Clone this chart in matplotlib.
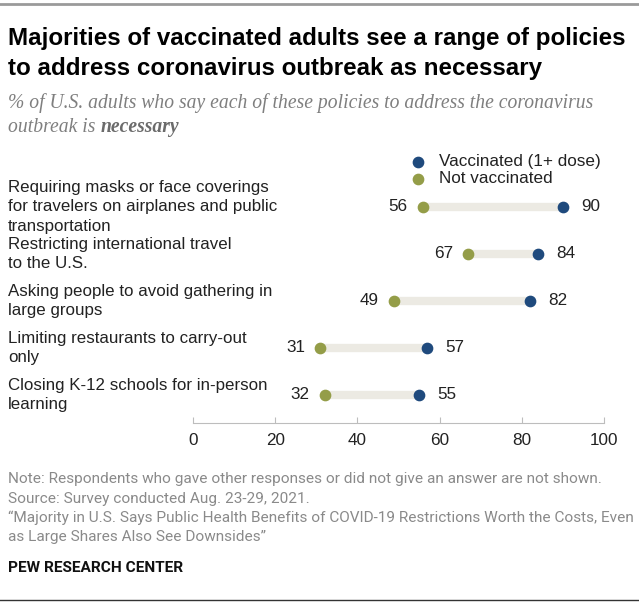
import matplotlib
matplotlib.use("Agg")
import matplotlib.pyplot as plt
import matplotlib.transforms as mtransforms

# Data
policies = [
    "Requiring masks or face coverings\nfor travelers on airplanes and public\ntransportation",
    "Restricting international travel\nto the U.S.",
    "Asking people to avoid gathering in\nlarge groups",
    "Limiting restaurants to carry-out\nonly",
    "Closing K-12 schools for in-person\nlearning",
]
vaccinated = [90, 84, 82, 57, 55]
not_vaccinated = [56, 67, 49, 31, 32]
x_ticks = [0, 20, 40, 60, 80, 100]

BLUE = "#1f4a7d"
OLIVE = "#949d48"
BAR = "#eceae3"
GREY = "#8a8a8a"
INK = "#222222"

W, H = 639, 606
SANS = ["Liberation Sans", "DejaVu Sans"]
NARROW = ["Roboto", "DejaVu Sans"]
SERIF = ["Liberation Serif", "DejaVu Serif"]

plt.rcParams["font.family"] = SANS

fig = plt.figure(figsize=(W / 100, H / 100), dpi=100)


def fx(px):
    return px / W


def fy(py):
    return 1 - py / H


# plot area: x 0..100 -> px 193..604, bottom axis line at px 423
ax = fig.add_axes([fx(193), fy(423), fx(604) - fx(193), fy(150) - fy(423)])
rows = list(range(len(policies)))

ax.hlines(rows, not_vaccinated, vaccinated, color=BAR, linewidth=6, zorder=1)
ax.scatter(vaccinated, rows, s=55, color=BLUE, zorder=3, label="Vaccinated (1+ dose)")
ax.scatter(not_vaccinated, rows, s=55, color=OLIVE, zorder=3, label="Not vaccinated")

label_tr = mtransforms.blended_transform_factory(fig.transFigure, ax.transData)
for r, v, n in zip(rows, vaccinated, not_vaccinated):
    ax.annotate(str(v), (v, r), xytext=(13, 0), textcoords="offset points",
                ha="left", va="center", fontsize=12.3, color=INK)
    ax.annotate(str(n), (n, r), xytext=(-11, 0), textcoords="offset points",
                ha="right", va="center", fontsize=12.3, color=INK)
    ax.text(fx(8), r, policies[r], transform=label_tr, fontsize=12.2,
            color=INK, ha="left", va="center", linespacing=1.38)

ax.set_xlim(0, 100)
ax.set_ylim(4.6, -1.21)
ax.set_xticks(x_ticks)
ax.set_yticks([])
for s in ["top", "left", "right"]:
    ax.spines[s].set_visible(False)
ax.spines["bottom"].set_color("#bdbdbd")
ax.tick_params(axis="x", direction="in", length=4, color="#bdbdbd",
               labelsize=12.3, labelcolor=INK, pad=7)

leg = ax.legend(loc="upper left", bbox_to_anchor=(fx(411), fy(154)),
                bbox_transform=fig.transFigure, frameon=False, fontsize=12.3,
                handlelength=0.8, handletextpad=0.85, labelspacing=0.12,
                borderpad=0, borderaxespad=0)
for t in leg.get_texts():
    t.set_color(INK)

# titles
fig.text(fx(8), fy(45), "Majorities of vaccinated adults see a range of policies",
         family=SANS, weight="bold", fontsize=17.4, color="black", va="baseline")
fig.text(fx(8), fy(75), "to address coronavirus outbreak as necessary",
         family=SANS, weight="bold", fontsize=17.4, color="black", va="baseline")
fig.text(fx(8), fy(108),
         "% of U.S. adults who say each of these policies to address the coronavirus",
         family=SERIF, style="italic", fontsize=14.1, color="#7f7f7f", va="baseline")
sub2 = fig.text(fx(8), fy(132), "outbreak is ", family=SERIF, style="italic",
                fontsize=14.1, color="#7f7f7f", va="baseline")
fig.canvas.draw()
bb = sub2.get_window_extent()
fig.text(bb.x1 / W, fy(132), "necessary", family=SERIF, style="italic",
         weight="bold", fontsize=14.1, color="#6b6b6b", va="baseline")

notes = [
    "Note: Respondents who gave other responses or did not give an answer are not shown.",
    "Source: Survey conducted Aug. 23-29, 2021.",
    "\u201cMajority in U.S. Says Public Health Benefits of COVID-19 Restrictions Worth the Costs, Even",
    "as Large Shares Also See Downsides\u201d",
]
for i, line in enumerate(notes):
    fig.text(fx(8), fy(483 + i * 19.5), line, family=NARROW, fontsize=11.1,
             color=GREY, va="baseline")
fig.text(fx(8), fy(572), "PEW RESEARCH CENTER", family=NARROW, weight="bold",
         fontsize=11.1, color="#111111", va="baseline")

# top and bottom rules
fig.add_artist(plt.Line2D([0, 1], [fy(4), fy(4)], transform=fig.transFigure,
                          color="#9a9a9a", linewidth=2))
fig.add_artist(plt.Line2D([0, 1], [fy(600), fy(600)], transform=fig.transFigure,
                          color="#333333", linewidth=1))

fig.savefig("out.png", dpi=100)
